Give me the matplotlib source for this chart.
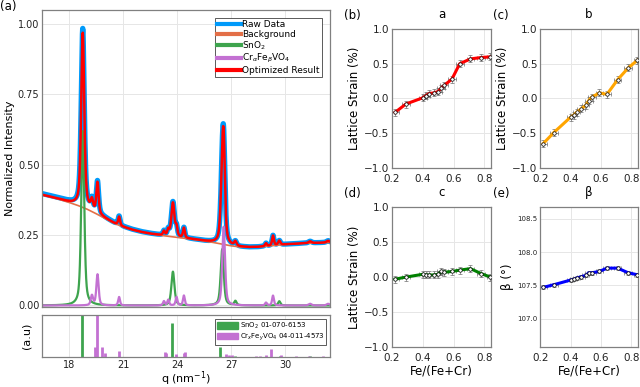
import matplotlib
matplotlib.use("Agg")
import matplotlib.pyplot as plt
import numpy as np
from matplotlib.patches import Patch

# Background knots (q, intensity).
bg_q = [16.5, 17.0, 17.5, 18.0, 18.5, 19.0, 19.5, 20.0, 20.5, 21.0, 21.5, 22.0,
        22.5, 23.0, 23.5, 24.0, 24.5, 25.0, 25.5, 26.0, 26.5, 27.0, 27.5, 28.0,
        28.5, 29.0, 29.5, 30.0, 30.5, 31.0, 31.5, 32.0, 32.5]
bg_y = [0.393, 0.385, 0.376, 0.366, 0.355, 0.342, 0.326, 0.309, 0.292, 0.279,
        0.269, 0.261, 0.255, 0.250, 0.246, 0.242, 0.238, 0.234, 0.229, 0.224,
        0.218, 0.212, 0.208, 0.207, 0.208, 0.211, 0.214, 0.217, 0.219, 0.221,
        0.222, 0.223, 0.224]

# Fitted phase peaks.
sno2_pos = [18.75, 23.76, 26.5, 27.23, 29.67]
sno2_amp = [0.62, 0.12, 0.2, 0.015, 0.015]
sno2_fwhm = [0.2, 0.2, 0.2, 0.15, 0.15]

cfv_pos = [19.26, 19.57, 20.77, 23.26, 23.5, 23.96, 24.37, 26.58, 28.93, 29.32, 31.38, 32.38]
cfv_amp = [0.035, 0.11, 0.03, 0.015, 0.02, 0.03, 0.035, 0.28, 0.01, 0.035, 0.006, 0.006]
cfv_fwhm = [0.15, 0.15, 0.12, 0.12, 0.12, 0.12, 0.12, 0.18, 0.12, 0.12, 0.2, 0.2]

# Reference stick patterns.
sno2_ref_q = [18.72, 23.7, 26.4, 27.2, 29.7, 31.4]
sno2_ref_h = [1.2, 0.8, 0.23, 0.03, 0.03, 0.02]
cfv_ref_q = [19.43, 19.54, 19.8, 20.0, 20.75, 23.3, 23.4, 23.95, 24.35, 24.45,
             26.7, 26.9, 27.05, 28.35, 28.6, 28.95, 29.2, 29.75, 30.6, 31.3, 32.1]
cfv_ref_h = [0.23, 1.2, 0.24, 0.1, 0.15, 0.12, 0.08, 0.07, 0.1, 0.12,
             0.07, 0.05, 0.04, 0.02, 0.02, 0.05, 0.19, 0.04, 0.02, 0.02, 0.02]

# Lattice strain vs composition.
comp = [0.22, 0.29, 0.40, 0.42, 0.44, 0.47, 0.50, 0.52, 0.54, 0.59, 0.64, 0.71, 0.78, 0.84]
strain_a = [-0.20, -0.08, 0.01, 0.04, 0.07, 0.08, 0.10, 0.15, 0.19, 0.28, 0.50, 0.57, 0.59, 0.60]
strain_b = [-0.65, -0.49, -0.27, -0.24, -0.20, -0.15, -0.10, -0.03, 0.02, 0.08, 0.06, 0.27, 0.44, 0.55]
strain_c = [-0.03, 0.00, 0.04, 0.03, 0.03, 0.03, 0.04, 0.08, 0.07, 0.08, 0.10, 0.12, 0.05, 0.00]
beta = [107.47, 107.51, 107.58, 107.59, 107.61, 107.63, 107.65, 107.69, 107.69, 107.71,
        107.76, 107.76, 107.69, 107.66]
comp_err = [0.025] * len(comp)
strain_err = [0.05] * len(comp)
beta_err = [0.03] * len(comp)


def pseudo_voigt(q, pos, amp, fwhm, eta=0.55):
    out = np.zeros_like(q)
    for p, a, w in zip(pos, amp, fwhm):
        x = (q - p) / (w / 2)
        out += a * (eta / (1 + x ** 2) + (1 - eta) * np.exp(-np.log(2) * x ** 2))
    return out


def style_axes(ax, labelsize=7.5):
    for s in ax.spines.values():
        s.set_color("#808080")
        s.set_linewidth(0.9)
    ax.grid(True, color="#e6e6e6", linewidth=0.7)
    ax.set_axisbelow(True)
    ax.tick_params(length=0, pad=2, labelsize=labelsize, colors="#222222")


def strain_panel(fig, rect, y, err, color, title, label, ylabel, ylim, xlabel=False, yticks=None):
    ax = fig.add_axes(rect)
    style_axes(ax, 7.5)
    ax.tick_params(axis="x", pad=4)
    ax.errorbar(comp, y, xerr=comp_err, yerr=err, fmt="none", ecolor="#707070",
                elinewidth=0.5, capsize=1.3, capthick=0.5, zorder=2)
    ax.plot(comp, y, color=color, linewidth=2.2, zorder=3)
    ax.plot(comp, y, "o", markersize=2.5, markerfacecolor="white", markeredgecolor="black",
            markeredgewidth=0.5, zorder=4)
    ax.set_xlim(0.2, 0.845)
    ax.set_xticks([0.2, 0.4, 0.6, 0.8])
    ax.set_ylim(*ylim)
    if yticks is not None:
        ax.set_yticks(yticks)
    ax.set_title(title, fontsize=8.5, pad=8)
    ax.set_ylabel(ylabel, fontsize=8.5, labelpad=2)
    if xlabel:
        ax.set_xlabel("Fe/(Fe+Cr)", fontsize=8.5, labelpad=1)
    ax.text(-0.48, 1.075, label, transform=ax.transAxes, fontsize=8.5)
    return ax


def main():
    fig = plt.figure(figsize=(6.4, 3.87), dpi=100)

    q = np.linspace(16.5, 32.5, 3201)
    bg = np.interp(q, bg_q, bg_y)
    sno2 = pseudo_voigt(q, sno2_pos, sno2_amp, sno2_fwhm)
    cfv = pseudo_voigt(q, cfv_pos, cfv_amp, cfv_fwhm)
    total = bg + sno2 + cfv

    # (a) main XRD fit.
    ax = fig.add_axes([0.066, 0.207, 0.450, 0.767])
    style_axes(ax, 7)
    ax.plot(q, total * 1.02 - 0.004, color="#009AFA", linewidth=3.8, label="Raw Data")
    ax.plot(bg_q, bg_y, color="#E36F47", linewidth=1.2, label="Background")
    ax.plot(q, sno2, color="#3EA44E", linewidth=1.6, label="SnO$_2$")
    ax.plot(q, cfv, color="#C371D2", linewidth=1.6, label=r"Cr$_\alpha$Fe$_\beta$VO$_4$")
    ax.plot(q, total, color="#FF0000", linewidth=1.8, label="Optimized Result")
    ax.set_xlim(16.5, 32.5)
    ax.set_ylim(-0.005, 1.05)
    ax.set_xticks([18, 21, 24, 27, 30])
    ax.set_xticklabels([])
    ax.set_yticks([0.0, 0.25, 0.5, 0.75, 1.0])
    ax.set_yticklabels(["0.00", "0.25", "0.50", "0.75", "1.00"])
    ax.set_ylabel("Normalized Intensity", fontsize=8, labelpad=2)
    leg = ax.legend(loc="upper right", fontsize=6.5, fancybox=False, framealpha=1,
                    edgecolor="#404040", handlelength=2.6, handletextpad=0.2,
                    borderpad=0.25, labelspacing=0.05, borderaxespad=0.9)
    leg.get_frame().set_linewidth(0.6)
    for line in leg.get_lines():
        line.set_linewidth(3)
    ax.text(-0.145, 1.0, "(a)", transform=ax.transAxes, fontsize=8.5)

    # Reference sticks.
    axr = fig.add_axes([0.066, 0.078, 0.450, 0.108])
    style_axes(axr, 7)
    axr.vlines(sno2_ref_q, 0, sno2_ref_h, color="#3EA44E", linewidth=2)
    axr.vlines(cfv_ref_q, 0, cfv_ref_h, color="#C371D2", linewidth=2)
    axr.set_xlim(16.5, 32.5)
    axr.set_ylim(0, 1)
    axr.set_xticks([18, 21, 24, 27, 30])
    axr.set_yticks([])
    axr.grid(True, axis="x", color="#e6e6e6", linewidth=0.7)
    axr.grid(False, axis="y")
    axr.set_ylabel("(a.u)", fontsize=8, labelpad=8)
    axr.set_xlabel("q (nm$^{-1}$)", fontsize=8, labelpad=0)
    handles = [Patch(color="#3EA44E", label="SnO$_2$ 01-070-6153"),
               Patch(color="#C371D2", label=r"Cr$_x$Fe$_y$VO$_4$ 04-011-4573")]
    leg2 = axr.legend(handles=handles, loc="upper right", fontsize=5.0, fancybox=False,
                      framealpha=1, edgecolor="#404040", handlelength=3.0, handleheight=1.0,
                      handletextpad=0.3, borderpad=0.25, labelspacing=0.05, borderaxespad=0.6)
    leg2.get_frame().set_linewidth(0.6)

    # (b)-(e) strain panels.
    strain_panel(fig, [0.6125, 0.566, 0.155, 0.359], strain_a, strain_err, "#FF0000",
                 "a", "(b)", "Lattice Strain (%)", (-1, 1), yticks=[-1, -0.5, 0, 0.5, 1])
    strain_panel(fig, [0.844, 0.566, 0.153, 0.359], strain_b, strain_err, "#FFA500",
                 "b", "(c)", "Lattice Strain (%)", (-1, 1), yticks=[-1, -0.5, 0, 0.5, 1])
    strain_panel(fig, [0.6125, 0.103, 0.155, 0.362], strain_c, strain_err, "#008000",
                 "c", "(d)", "Lattice Strain (%)", (-1, 1), xlabel=True,
                 yticks=[-1, -0.5, 0, 0.5, 1])
    axe = strain_panel(fig, [0.844, 0.103, 0.153, 0.362], beta, beta_err, "#0000FF",
                       "β", "(e)", "β (°)", (106.57, 108.68), xlabel=True,
                       yticks=[107.0, 107.5, 108.0, 108.5])
    axe.tick_params(axis="y", labelsize=5)

    fig.savefig("out.png", dpi=100)


if __name__ == "__main__":
    main()
